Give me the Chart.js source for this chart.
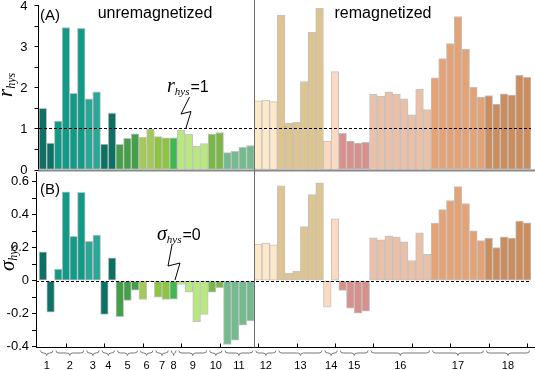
<!DOCTYPE html>
<html lang="en">
<head>
<meta charset="UTF-8">
<title>r_hys / sigma_hys</title>
<style>
  body { margin: 0; background: #fff; font-family: Arial, "Liberation Sans", sans-serif; }
  #wrap { position: relative; width: 535px; height: 370px; }
  canvas { position: absolute; left: 0; top: 0; }
</style>
<script src="https://cdn.jsdelivr.net/npm/chart.js"></script>
</head>
<body>
<div id="wrap">
  <canvas id="chartA" width="535" height="172"></canvas>
  <canvas id="chartB" width="535" height="370"></canvas>
</div>
<script>
// samples 1..18 and how many measurements (bars) each one has
const sampleNames = ['1','2','3','4','5','6','7','8','9','10','11','12','13','14','15','16','17','18'];
const barsPerSample = [2, 4, 2, 2, 3, 2, 2, 1, 4, 2, 4, 3, 6, 2, 4, 8, 7, 6];

// (A) r_hys
const rHys = [
  1.49, 0.64, 1.18, 3.45, 1.85, 3.43, 1.72, 1.89, 0.62, 1.37,
  0.61, 0.76, 0.87, 0.78, 0.98, 0.80, 0.77, 0.77, 0.95, 0.86,
  0.57, 0.63, 0.86, 0.90, 0.41, 0.44, 0.54, 0.58,
  1.67, 1.69, 1.65, 3.75, 1.12, 1.15, 2.14, 3.34, 3.92, 0.69, 2.38,
  0.88, 0.69, 0.64, 0.66,
  1.83, 1.78, 1.89, 1.83, 1.72, 1.33, 1.95, 1.46,
  2.23, 2.70, 3.06, 3.72, 2.92, 2.00, 1.76,
  1.80, 1.59, 1.84, 1.81, 2.29, 2.24
];

// (B) sigma_hys
const sigmaHys = [
  0.176, -0.19, 0.071, 0.54, 0.27, 0.537, 0.24, 0.277, -0.204, 0.139,
  -0.218, -0.119, -0.057, -0.113, -0.005, -0.10, -0.113, -0.111, -0.022, -0.069,
  -0.248, -0.204, -0.069, -0.042, -0.386, -0.36, -0.269, -0.244,
  0.222, 0.228, 0.218, 0.576, 0.046, 0.057, 0.329, 0.523, 0.594, -0.16, 0.376,
  -0.059, -0.166, -0.196, -0.184,
  0.261, 0.248, 0.273, 0.265, 0.236, 0.123, 0.291, 0.16,
  0.35, 0.432, 0.487, 0.572, 0.469, 0.303, 0.244,
  0.259, 0.202, 0.267, 0.259, 0.362, 0.351
];

const rTicks = [0, 0.5, 1, 1.5, 2, 2.5, 3, 3.5, 4];
const sigmaTicks = [-0.4, -0.3, -0.2, -0.1, 0, 0.1, 0.2, 0.3, 0.4, 0.5, 0.6];
const xTicks = [5, 10, 15, 20, 25, 30, 35, 40, 45, 50, 55, 60, 65];

const sampleColors = [
  '#107066', '#129a88', '#2aa796', '#0c7062', '#44a048', '#a3c95a', '#8dc63e', '#3dba4f', '#b9e97e',
  '#7bb746', '#75b98e', '#fde8ca', '#dec48f', '#fcd9bf', '#d7908c', '#ebc0a8', '#e3a377', '#cc8d5e'
];

const barSample = [];
barsPerSample.forEach((n, g) => { for (let k = 0; k < n; k++) barSample.push(g); });
const barColors = barSample.map(g => sampleColors[g]);
const splitAfter = 11; // samples 1..11 unremagnetized

const FONT = 'Arial, "Liberation Sans", sans-serif';
const SERIF = '"Times New Roman", "Liberation Serif", serif';

let chartA = null;

function dashedAt(chart, val) {
  const { ctx, chartArea, scales } = chart;
  const y = Math.round(scales.y.getPixelForValue(val)) + 0.5;
  ctx.save();
  ctx.strokeStyle = '#000';
  ctx.lineWidth = 1;
  ctx.setLineDash([3, 2]);
  ctx.beginPath();
  ctx.moveTo(chartArea.left, y);
  ctx.lineTo(chartArea.right, y);
  ctx.stroke();
  ctx.restore();
}

// value axis of panel A, placed with panel A's y scale
function drawLeftAxis(ctx, area, yScale, ticks, labelFn) {
  const x = Math.round(area.left) - 0.5;
  ctx.save();
  ctx.strokeStyle = '#000';
  ctx.lineWidth = 1;
  ctx.beginPath();
  ctx.moveTo(x, area.top);
  ctx.lineTo(x, area.bottom);
  ticks.forEach(t => {
    const py = Math.round(yScale.getPixelForValue(t)) + 0.5;
    ctx.moveTo(x, py);
    ctx.lineTo(x - 4, py);
  });
  ctx.stroke();
  ctx.restore();
  ticks.forEach(t => {
    const s = labelFn(t);
    if (s) plainText(ctx, s, x - 11, yScale.getPixelForValue(t) + 4.5, 13, 'right');
  });
}

// italic symbol + subscript + plain text, e.g. r_hys=1
function subLabel(ctx, x, y, main, sub, rest) {
  ctx.save();
  ctx.fillStyle = '#000';
  ctx.textAlign = 'left';
  ctx.textBaseline = 'alphabetic';
  ctx.font = 'italic 20px ' + SERIF;
  ctx.fillText(main, x, y);
  x += ctx.measureText(main).width;
  ctx.font = 'italic 11px ' + SERIF;
  ctx.fillText(sub, x, y + 3);
  x += ctx.measureText(sub).width + 1;
  ctx.font = '16px ' + FONT;
  ctx.fillText(rest, x, y);
  ctx.restore();
}

function squiggle(ctx, pts) {
  ctx.save();
  ctx.strokeStyle = '#000';
  ctx.lineWidth = 1;
  ctx.lineJoin = 'round';
  ctx.beginPath();
  ctx.moveTo(pts[0][0], pts[0][1]);
  for (let i = 1; i < pts.length; i++) ctx.lineTo(pts[i][0], pts[i][1]);
  ctx.stroke();
  ctx.restore();
}

function yTitle(ctx, x, yStart, main, sub) {
  ctx.save();
  ctx.translate(x, yStart);
  ctx.rotate(-Math.PI / 2);
  ctx.fillStyle = '#000';
  ctx.textAlign = 'left';
  ctx.textBaseline = 'alphabetic';
  ctx.font = 'italic 21px ' + SERIF;
  ctx.fillText(main, 0, 0);
  const w = ctx.measureText(main).width;
  ctx.font = 'italic 12px ' + SERIF;
  ctx.fillText(sub, w, 3);
  ctx.restore();
}

function plainText(ctx, txt, x, y, size, align) {
  ctx.save();
  ctx.fillStyle = '#000';
  ctx.textAlign = align;
  ctx.textBaseline = 'alphabetic';
  ctx.font = size + 'px ' + FONT;
  ctx.fillText(txt, x, y);
  ctx.restore();
}

// panel A canvas: bars, dashed r=1 line, grey base line
const decorA = {
  id: 'decorA',
  afterDraw(chart) {
    const { ctx, chartArea } = chart;
    dashedAt(chart, 1);
    ctx.save();
    ctx.strokeStyle = '#8a8a8a';
    ctx.lineWidth = 2;
    ctx.beginPath();
    ctx.moveTo(chartArea.left - 1, chartArea.bottom + 1);
    ctx.lineTo(535, chartArea.bottom + 1);
    ctx.stroke();
    ctx.restore();
  }
};

// top canvas: panel B plus all texts, panel A's axis and the separator
const decorB = {
  id: 'decorB',
  afterDraw(chart) {
    const { ctx, chartArea, scales } = chart;
    const xs = scales.x;
    dashedAt(chart, 0);
    const yb = Math.round(chartArea.bottom) + 0.5;
    ctx.save();
    ctx.strokeStyle = '#000';
    ctx.lineWidth = 1;
    ctx.beginPath();
    ctx.moveTo(chartArea.left, yb);
    ctx.lineTo(535, yb);
    xTicks.forEach(t => {
      const px = Math.round(xs.getPixelForValue(t)) + 0.5;
      ctx.moveTo(px, yb);
      ctx.lineTo(px, yb - 4);
    });
    ctx.stroke();

    // separator between the two sample sets
    let nLeft = 0;
    for (let g = 0; g < splitAfter; g++) nLeft += barsPerSample[g];
    const sx = Math.round(xs.getPixelForValue(nLeft + 1.5)) + 0.5;
    ctx.strokeStyle = '#6e6e6e';
    ctx.beginPath();
    ctx.moveTo(sx, 0);
    ctx.lineTo(sx, yb);
    ctx.stroke();

    // braces under each sample
    let start = 1.5;
    ctx.strokeStyle = '#777';
    barsPerSample.forEach((n) => {
      const x0 = xs.getPixelForValue(start) + 1.5;
      const x1 = xs.getPixelForValue(start + n) - 1.5;
      const m = (x0 + x1) / 2;
      const y = 350.5, h = 5;
      const r = Math.min(3, (x1 - x0) / 4);
      ctx.beginPath();
      ctx.moveTo(x0, y);
      ctx.quadraticCurveTo(x0, y + h / 2, x0 + r, y + h / 2);
      ctx.lineTo(m - r, y + h / 2);
      ctx.quadraticCurveTo(m, y + h / 2, m, y + h);
      ctx.quadraticCurveTo(m, y + h / 2, m + r, y + h / 2);
      ctx.lineTo(x1 - r, y + h / 2);
      ctx.quadraticCurveTo(x1, y + h / 2, x1, y);
      ctx.stroke();
      start += n;
    });
    ctx.restore();

    start = 1.5;
    barsPerSample.forEach((n, g) => {
      const m = (xs.getPixelForValue(start) + xs.getPixelForValue(start + n)) / 2;
      plainText(ctx, sampleNames[g], m, 369, 11, 'center');
      start += n;
    });

    // panel B texts
    plainText(ctx, '(B)', 40, 194, 15, 'left');
    subLabel(ctx, 157, 240, '\u03c3', 'hys', '=0');
    squiggle(ctx, [[172, 245], [168, 266], [180, 263], [175, 280]]);
    yTitle(ctx, 13.5, 271, '\u03c3', 'hys');

    // panel A axis and texts
    if (chartA) {
      drawLeftAxis(ctx, chartA.chartArea, chartA.scales.y, rTicks, v => Number.isInteger(v) ? String(v) : '');
    }
    plainText(ctx, '(A)', 40, 20, 15, 'left');
    plainText(ctx, 'unremagnetized', 155, 18, 16, 'center');
    plainText(ctx, 'remagnetized', 383, 18, 16, 'center');
    subLabel(ctx, 167, 92, 'r', 'hys', '=1');
    squiggle(ctx, [[189.5, 97], [181, 114], [191, 111.5], [186, 128]]);
    yTitle(ctx, 12, 97, 'r', 'hys');
  }
};

function makeChart(id, vals, yOpts, xMin, pad, plugin) {
  return new Chart(document.getElementById(id), {
    type: 'bar',
    data: {
      datasets: [{
        data: vals.map((v, i) => ({ x: i + 2, y: v })),
        backgroundColor: barColors,
        borderColor: '#c2c2c2',
        borderWidth: 1,
        borderSkipped: false,
        barPercentage: 1,
        categoryPercentage: 1
      }]
    },
    options: {
      responsive: false,
      devicePixelRatio: 1,
      animation: false,
      layout: { padding: pad },
      plugins: { legend: { display: false }, tooltip: { enabled: false } },
      scales: {
        x: { type: 'linear', min: xMin, max: 65.5, offset: false, display: false },
        y: yOpts
      }
    },
    plugins: [plugin]
  });
}

// panel A: its value axis is drawn on the top canvas from this chart's y scale
chartA = makeChart('chartA', rHys, { min: 0, max: 4, display: false },
  1.5, { left: 39, right: 4, top: 5, bottom: 2.5 }, decorA);

makeChart('chartB', sigmaHys, {
  min: -0.4, max: 0.66,
  afterFit: s => { s.width = 36; s.paddingTop = 0; s.paddingBottom = 0; },
  afterBuildTicks: s => { s.ticks = sigmaTicks.map(v => ({ value: v })); },
  grid: { drawOnChartArea: false, drawTicks: true, tickLength: 4, color: '#000' },
  border: { color: '#000', width: 1 },
  ticks: {
    autoSkip: false, padding: 3, color: '#000', font: { family: FONT, size: 13 },
    callback: v => {
      const k = Math.round(v * 10);
      if (k % 2 !== 0) return '';
      return k === 0 ? '0' : (k / 10).toFixed(1);
    }
  }
}, 1.1, { left: 0, right: 4, top: 172, bottom: 23.3 }, decorB);
</script>
</body>
</html>
